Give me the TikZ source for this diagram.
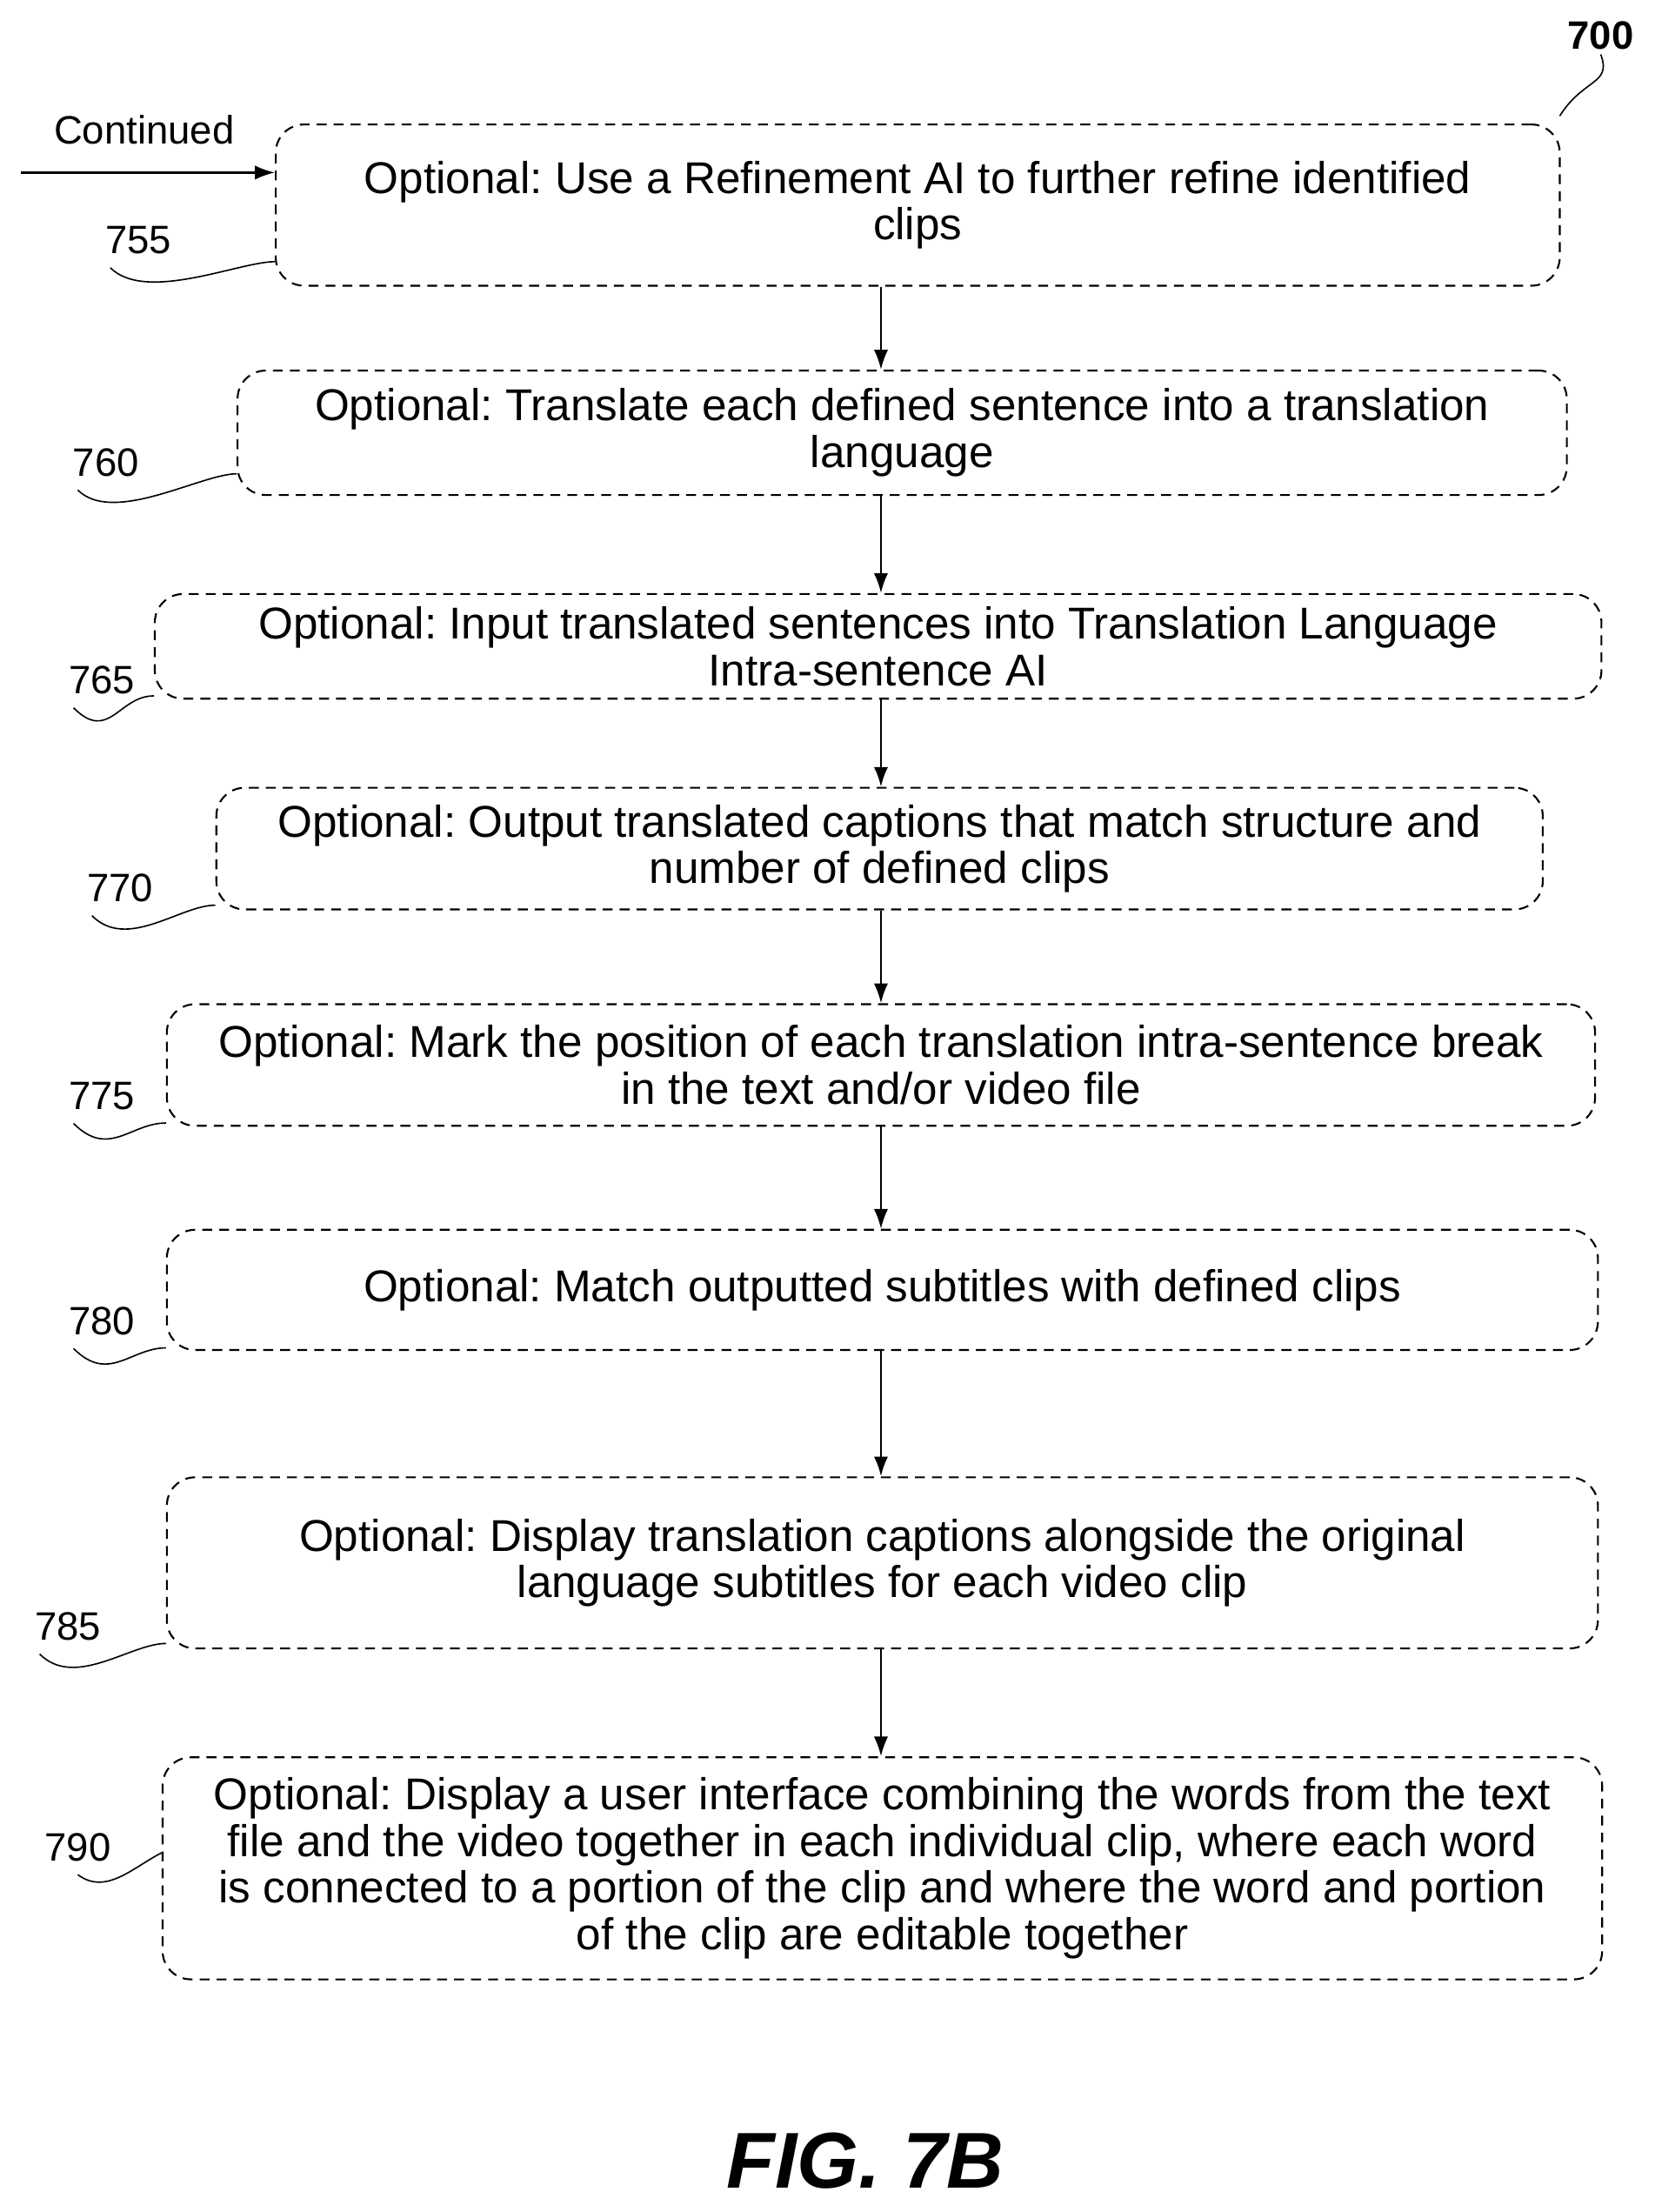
\documentclass[tikz,border=0pt]{standalone}
\usepackage{fontspec}
\setmainfont{Liberation Sans}
\usetikzlibrary{arrows.meta,calc}
\begin{document}
\frenchspacing
\begin{tikzpicture}[x=1pt,y=-1pt,
  box/.style={draw,dashed,dash pattern=on 7pt off 5pt,line width=1.3pt,rounded corners=20pt,align=center,inner sep=0pt,font=\fontsize{31.5}{33}\selectfont},
  lab/.style={font=\fontsize{28}{30}\selectfont},
  arr/.style={-{Latex[length=14pt,width=10pt]},line width=1.5pt},
  sq/.style={line width=1pt}]
\useasboundingbox (0,0) rectangle (1170,1564);
\node[box,minimum width=908pt,minimum height=114pt] (b755) at (649,145) {Optional: Use a Refinement AI to further refine identified\\clips};
\node[box,minimum width=940pt,minimum height=88pt] (b760) at (638,306) {Optional: Translate each defined sentence into a translation\\language};
\node[box,minimum width=1023pt,minimum height=74pt] (b765) at (621,457) {Optional: Input translated sentences into Translation Language\\Intra-sentence AI};
\node[box,minimum width=938pt,minimum height=86pt] (b770) at (622,600) {Optional: Output translated captions that match structure and\\number of defined clips};
\node[box,minimum width=1010pt,minimum height=86pt] (b775) at (623,753) {Optional: Mark the position of each translation intra-sentence break\\in the text and/or video file};
\node[box,minimum width=1012pt,minimum height=85pt] (b780) at (624,912) {Optional: Match outputted subtitles with defined clips};
\node[box,minimum width=1012pt,minimum height=121pt] (b785) at (624,1105) {Optional: Display translation captions alongside the original\\language subtitles for each video clip};
\node[box,minimum width=1018pt,minimum height=157pt] (b790) at (624,1321) {Optional: Display a user interface combining the words from the text\\file and the video together in each individual clip, where each word\\is connected to a portion of the clip and where the word and portion\\of the clip are editable together};
\foreach \a/\b in {755/760,760/765,765/770,770/775,775/780,780/785,785/790}
  \draw[arr] (b\a.south -| 623,0) -- (b\b.north -| 623,0);
\node[lab] (c) at (102,92) {Continued};
\coordinate (cs) at (15,122);
\draw[arr] (cs) -- (b755.west |- 0,122);
\node[font=\bfseries\fontsize{28}{30}\selectfont] (n700) at (1132,25) {700};
\draw[sq] (n700.south) .. controls (1140,60) and (1120,55) .. (1103,82);
\foreach \n/\x/\y/\b/\ey in {755/98/170/b755/185,760/75/327/b760/335,765/72/481/b765/492,770/85/628/b770/640,775/72/775/b775/794,780/72/934/b780/953,785/48/1150/b785/1162,790/55/1306/b790/1310}{
  \node[lab] (l\n) at (\x,\y) {\n};
  \coordinate (e\n) at (\b.west |- 0,\ey);
}
\foreach \n in {755,760,765,770,775,780,785}
  \draw[sq] ($(l\n.south)+(-20,6)$) .. controls +(25,25) and +(-25,0) .. (e\n);
\draw[sq] ($(l790.south)+(0,6)$) .. controls +(20,15) and +(-20,10) .. (e790);
\node[font=\bfseries\itshape\fontsize{56}{58}\selectfont] (fig) at (612,1528) {FIG. 7B};
\end{tikzpicture}
\end{document}
